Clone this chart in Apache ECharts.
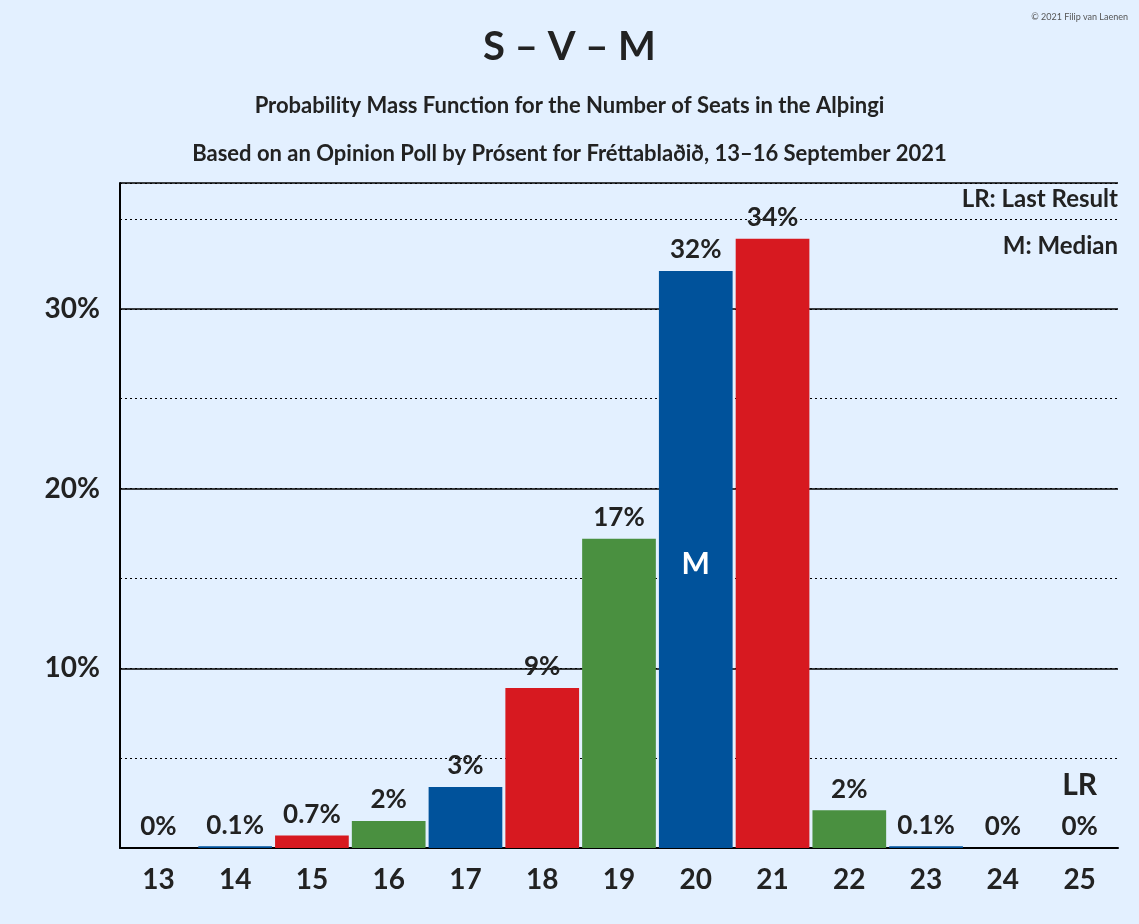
<!DOCTYPE html>
<html>
<head>
<meta charset="utf-8">
<script src="https://cdn.jsdelivr.net/npm/echarts@6/dist/echarts.min.js"></script>
<style>html,body{margin:0;background:#E3F0FF}#chart{width:1139px;height:924px}</style>
</head>
<body>
<div id="chart"></div>
<script>
var seats = ['13', '14', '15', '16', '17', '18', '19', '20', '21', '22', '23', '24', '25'];
var probs = [0, 0.1, 0.7, 1.5, 3.4, 8.9, 17.2, 32.1, 33.9, 2.1, 0.1, 0, 0];
var labels = ['0%', '0.1%', '0.7%', '2%', '3%', '9%', '17%', '32%', '34%', '2%', '0.1%', '0%', '0%'];
var colors = ['#4A9040', '#00529B', '#D71920', '#4A9040', '#00529B', '#D71920', '#4A9040', '#00529B', '#D71920', '#4A9040', '#00529B', '#D71920', '#4A9040'];
var medianSeat = '20';
var lastResultSeat = '25';

var font = 'Lato, "Open Sans", sans-serif';
var chart = echarts.init(document.getElementById('chart'));
chart.setOption({
    backgroundColor: '#E3F0FF',
    textStyle: { fontFamily: font },
    title: [
        { text: 'S – V – M', left: 'center', top: 22, textStyle: { fontSize: 40, fontWeight: 'bold', color: '#222', fontFamily: font } },
        { text: 'Probability Mass Function for the Number of Seats in the Alþingi', left: 'center', top: 90, textStyle: { fontSize: 22, fontWeight: 'bold', color: '#222', fontFamily: font } },
        { text: 'Based on an Opinion Poll by Prósent for Fréttablaðið, 13–16 September 2021', left: 'center', top: 138, textStyle: { fontSize: 22, fontWeight: 'bold', color: '#222', fontFamily: font } },
        { text: '© 2021 Filip van Laenen', right: 6, top: 8, textStyle: { fontSize: 9, color: '#555', fontWeight: 'normal' } }
    ],
    graphic: [
        { type: 'text', right: 21, top: 187, style: { text: 'LR: Last Result', font: 'bold 24px ' + font, fill: '#222' } },
        { type: 'text', right: 21, top: 234, style: { text: 'M: Median', font: 'bold 24px ' + font, fill: '#222' } }
    ],
    grid: { left: 120, right: 21, top: 183, bottom: 76 },
    xAxis: {
        type: 'category',
        data: seats,
        axisTick: { show: false },
        axisLine: { lineStyle: { color: '#000', width: 2 } },
        axisLabel: { fontSize: 28, fontWeight: 'bold', color: '#222', margin: 18 }
    },
    yAxis: [{
        type: 'value', min: 0, max: 37, interval: 5,
        axisLine: { show: true, lineStyle: { color: '#000', width: 2 } },
        axisTick: { show: false },
        axisLabel: { fontSize: 28, fontWeight: 'bold', color: '#222', margin: 20,
            formatter: function (v) { return v % 10 === 0 && v > 0 ? v + '%' : ''; } },
        splitLine: { lineStyle: { color: '#000', type: [2, 3], width: 1.2 } }
    }, {
        type: 'value', min: 0, max: 37, interval: 10, position: 'left',
        axisLine: { show: false }, axisLabel: { show: false }, axisTick: { show: false },
        splitLine: { lineStyle: { color: '#000', width: 1.5 } }
    }],
    series: [{
        type: 'bar',
        barCategoryGap: '4%',
        data: probs.map(function (v, i) { return { value: v, itemStyle: { color: colors[i] } }; }),
        label: {
            show: true, position: 'top', distance: 8,
            fontSize: 26, fontWeight: 'bold', color: '#222',
            formatter: function (p) {
                if (p.name === lastResultSeat) return '{lr|LR}\n{v|' + labels[p.dataIndex] + '}';
                return labels[p.dataIndex];
            },
            rich: { lr: { fontSize: 30, fontWeight: 'bold', color: '#222', lineHeight: 58 }, v: { fontSize: 26, fontWeight: 'bold', color: '#222' } }
        },
        markPoint: {
            symbol: 'rect', symbolSize: 1,
            itemStyle: { color: 'transparent' },
            label: { show: true, formatter: 'M', fontSize: 30, fontWeight: 'bold', color: '#fff' },
            data: [{ coord: [medianSeat, 15.8] }]
        }
    }]
});
</script>
</body>
</html>
